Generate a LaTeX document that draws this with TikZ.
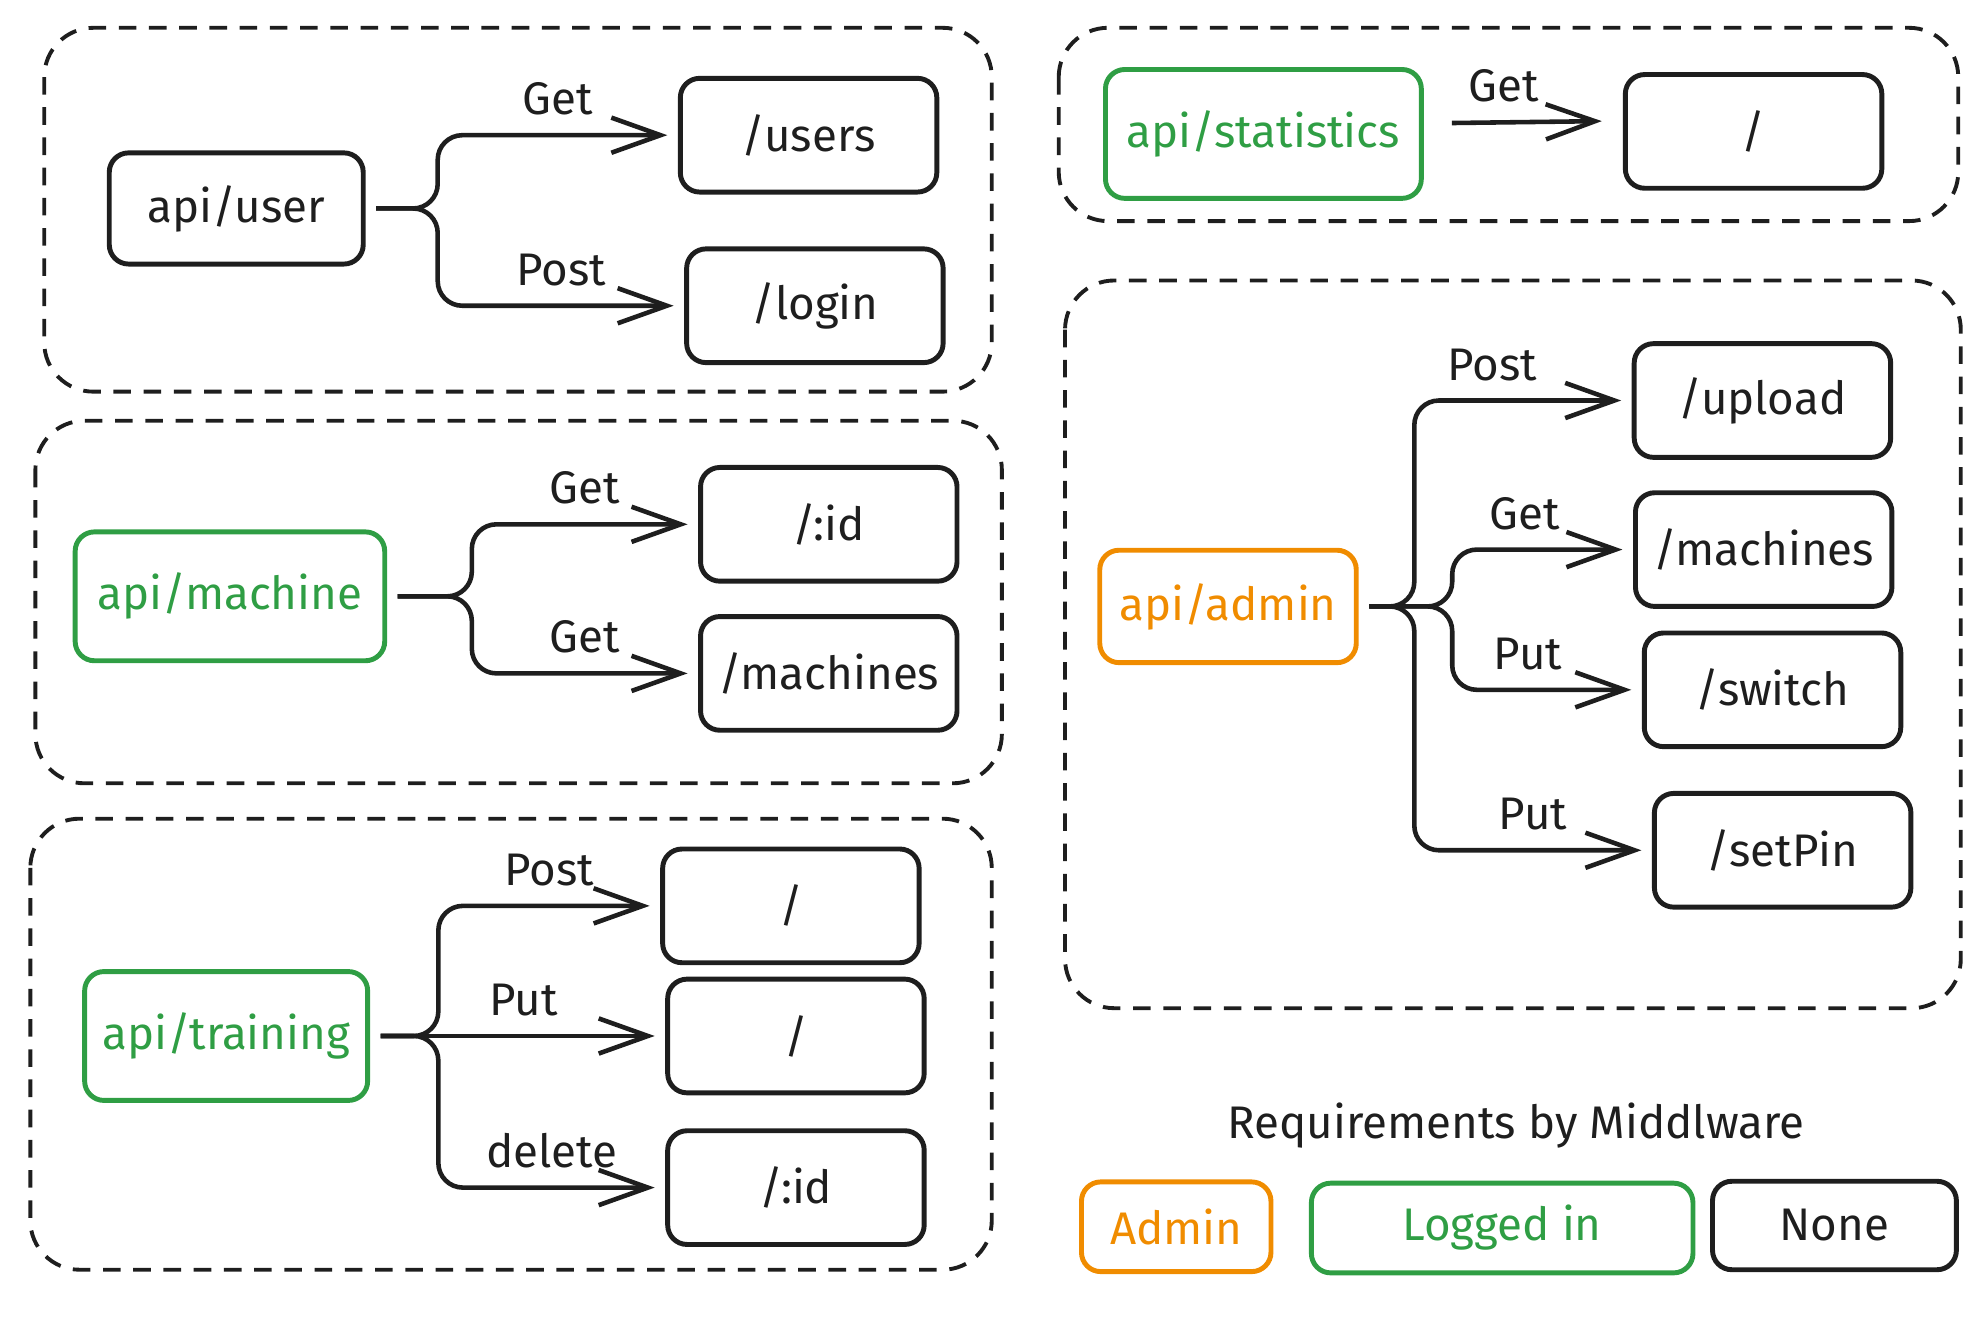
\documentclass[tikz,border=0pt]{standalone}
\usepackage{fontspec}
\setmainfont{Fira Sans}
\usetikzlibrary{arrows.meta}
\definecolor{ink}{HTML}{1E1E1E}
\definecolor{okgreen}{HTML}{2F9E44}
\definecolor{admorange}{HTML}{F08C00}
\newcommand\pxu{0.3595pt}
\newcommand\sketchfont{\fontsize{13}{15}\selectfont}
\tikzset{
  box/.style={draw=ink, line width=1.4pt, rounded corners=5.5pt, text=ink,
    font=\sketchfont, minimum width=203*\pxu, minimum height=90*\pxu, inner sep=0pt},
  dims/.style 2 args={minimum width=#1*\pxu, minimum height=#2*\pxu},
  greenbox/.style={box, draw=okgreen, text=okgreen},
  orangebox/.style={box, draw=admorange, text=admorange},
  group/.style={draw=ink, line width=1.1pt, dash pattern=on 5pt off 3.6pt, rounded corners=14pt},
  conn/.style={draw=ink, line width=1.3pt, rounded corners=7pt, shorten <=3pt, shorten >=3pt,
    -{Straight Barb[length=14pt,width=10pt]}},
  lbl/.style={text=ink, font=\sketchfont, above, inner sep=1pt, yshift=4pt}
}
\begin{document}
\begin{tikzpicture}[x=0.012634cm, y=-0.012634cm]
\useasboundingbox (0,0) rectangle (1568,1045);
% api/user
\draw[group] (35,22) rectangle (785,310);
\node[box, dims={201}{88}] (user) at (187,165) {api/user};
\node[box] (users) at (640,107) {/users};
\node[box] (login) at (645,242) {/login};
\draw[conn] (user.east) -- ++(57,0) |- node[lbl, pos=0.75] {Get} (users.west);
\draw[conn] (user.east) -- ++(57,0) |- node[lbl, pos=0.75] {Post} (login.west);
% api/machine
\draw[group] (28,333) rectangle (793,620);
\node[greenbox, dims={245}{102}] (machine) at (182,472) {api/machine};
\node[box] (machid) at (656,415) {/:id};
\node[box] (machlist) at (656,533) {/machines};
\draw[conn] (machine.east) -- ++(67,0) |- node[lbl, pos=0.75] {Get} (machid.west);
\draw[conn] (machine.east) -- ++(67,0) |- node[lbl, pos=0.75] {Get} (machlist.west);
% api/training
\draw[group] (24,648) rectangle (785,1005);
\node[greenbox, dims={224}{102}] (training) at (179,820) {api/training};
\node[box] (trainpost) at (626,717) {/};
\node[box] (trainput) at (630,820) {/};
\node[box] (trainid) at (630,940) {/:id};
\draw[conn] (training.east) -- ++(54,0) |- node[lbl, pos=0.75] {Post} (trainpost.west);
\draw[conn] (training.east) -- node[lbl, pos=0.52] {Put} (trainput.west);
\draw[conn] (training.east) -- ++(54,0) |- node[lbl, pos=0.75] {delete} (trainid.west);
% api/statistics
\draw[group] (838,22) rectangle (1550,175);
\node[greenbox, dims={250}{102}] (stats) at (1000,106) {api/statistics};
\node[box] (statroot) at (1388,104) {/};
\draw[conn, shorten <=8pt, shorten >=6pt] ([yshift=3pt]stats.east)
  -- node[lbl, pos=0.4] {Get} ([yshift=3pt]statroot.west);
% api/admin
\draw[group] (843,222) rectangle (1552,798);
\node[orangebox, dims={203}{89}] (admin) at (972,480) {api/admin};
\node[box] (upload) at (1395,317) {/upload};
\node[box] (admmach) at (1396,435) {/machines};
\node[box] (switch) at (1403,546) {/switch};
\node[box] (setpin) at (1411,673) {/setPin};
\draw[conn] (admin.east) -- ++(44,0) |- node[lbl, pos=0.68] {Post} (upload.west);
\draw[conn] (admin.east) -- ++(74,0) |- node[lbl, pos=0.7] {Get} (admmach.west);
\draw[conn] (admin.east) -- ++(74,0) |- node[lbl, pos=0.7] {Put} (switch.west);
\draw[conn] (admin.east) -- ++(44,0) |- node[lbl, pos=0.75] {Put} (setpin.west);
% legend
\node[text=ink, font=\sketchfont] (legtitle) at (1200,891) {Requirements by Middlware};
\node[orangebox, dims={150}{71}] (legadmin) at (931,971) {Admin};
\node[greenbox, dims={302}{71}] (leglogged) at (1189,972) {Logged in};
\node[box, dims={193}{70}] (legnone) at (1452,970) {None};
\end{tikzpicture}
\end{document}
